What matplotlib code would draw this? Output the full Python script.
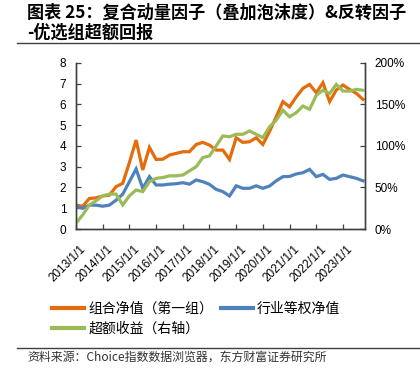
import numpy as np
import matplotlib
matplotlib.use('Agg')
import matplotlib.pyplot as plt
from matplotlib.lines import Line2D
from matplotlib.ticker import PercentFormatter
from matplotlib.transforms import ScaledTranslation

plt.rcParams['font.family'] = ['Liberation Sans', 'Noto Sans CJK SC']

# quarterly values, 2013Q1 - 2023Q4
portfolio_nav = [1.15, 1.10, 1.47, 1.50, 1.59, 1.63, 2.04, 2.20, 3.20, 4.28, 2.84, 3.93,
                 3.35, 3.36, 3.56, 3.64, 3.72, 3.72, 4.07, 4.17, 4.04, 3.80, 3.80, 3.35,
                 4.39, 4.17, 4.20, 4.39, 4.07, 4.70, 5.40, 6.13, 5.88, 6.36, 6.77, 6.96,
                 6.56, 7.04, 6.13, 6.69, 6.93, 6.72, 6.53, 6.24]
industry_nav = [1.07, 1.00, 1.15, 1.15, 1.10, 1.15, 1.39, 1.68, 2.28, 2.89, 1.96, 2.52,
                2.12, 2.12, 2.16, 2.18, 2.23, 2.16, 2.36, 2.28, 2.15, 1.91, 1.80, 1.59,
                2.08, 1.96, 1.96, 2.08, 1.96, 2.07, 2.32, 2.52, 2.53, 2.65, 2.71, 2.87,
                2.52, 2.63, 2.39, 2.44, 2.60, 2.52, 2.44, 2.32]
excess_pct = [7, 17, 29, 34, 40, 42, 42, 29, 40, 47, 45, 57,
              61, 62, 64, 64, 65, 70, 75, 86, 88, 100, 112, 111,
              114, 114, 118, 114, 110, 123, 131, 143, 135, 140, 148, 144,
              161, 167, 163, 174, 166, 166, 168, 167]
year_labels = ['2013/1/1', '2014/1/1', '2015/1/1', '2016/1/1', '2017/1/1', '2018/1/1',
               '2019/1/1', '2020/1/1', '2021/1/1', '2022/1/1', '2023/1/1']

orange = '#E46C0A'
blue = '#4F81BD'
green = '#9BBB59'
axis_col = '#404040'

x = np.arange(len(portfolio_nav))

fig = plt.figure(figsize=(4.2, 3.83), dpi=100)
ax = fig.add_axes([0.181, 0.402, 0.688, 0.434])
ax2 = ax.twinx()

ax.plot(x, portfolio_nav, color=orange, lw=2.3, solid_joinstyle='miter')
ax.plot(x, industry_nav, color=blue, lw=2.3, solid_joinstyle='miter')
ax2.plot(x, np.array(excess_pct) / 100, color=green, lw=2.3, solid_joinstyle='miter')

ax.set_xlim(0, 43.3)
ax.set_ylim(0, 8)
ax2.set_ylim(0, 2)
ax.set_yticks(range(0, 9))
ax2.set_yticks([0, 0.5, 1.0, 1.5, 2.0])
ax2.yaxis.set_major_formatter(PercentFormatter(1.0, decimals=0))

ax.set_xticks(np.arange(0, 44, 4))
ax.set_xticklabels(year_labels, rotation=45, ha='right', rotation_mode='anchor')

for a in (ax, ax2):
    a.spines['top'].set_visible(False)
    for s in ('left', 'right', 'bottom'):
        a.spines[s].set_color(axis_col)
        a.spines[s].set_linewidth(1.0)
    a.tick_params(direction='in', length=3.5, width=0.9, color=axis_col,
                  labelsize=8.5, labelcolor='black', pad=7)
ax.tick_params(axis='x', pad=10)
shift = ScaledTranslation(4 / 100, 0, fig.dpi_scale_trans)
for lab in ax.get_xticklabels():
    lab.set_transform(lab.get_transform() + shift)

handles = [Line2D([], [], color=orange, lw=3),
           Line2D([], [], color=green, lw=3),
           Line2D([], [], color=blue, lw=3)]
labels = ['组合净值（第一组）', '超额收益（右轴）', '行业等权净值']
fig.legend(handles, labels, ncol=2, loc='upper left', bbox_to_anchor=(0.095, 0.245),
           frameon=False, fontsize=10, handlelength=2.3, handletextpad=0.3,
           columnspacing=0.55, labelspacing=0.45)

fig.text(0.065, 1 - 13 / 383, '图表 25：复合动量因子（叠加泡沫度）&反转因子',
         fontsize=12.3, fontweight='bold', va='center', ha='left',
         family=['Noto Sans CJK SC'])
fig.text(0.065, 1 - 33 / 383, '-优选组超额回报',
         fontsize=12.3, fontweight='bold', va='center', ha='left',
         family=['Noto Sans CJK SC'])
fig.add_artist(Line2D([0.04, 1.0], [1 - 43 / 383] * 2, color=axis_col, lw=1.0))
fig.add_artist(Line2D([0.04, 1.0], [1 - 348 / 383] * 2, color=axis_col, lw=1.0))
fig.text(0.065, 1 - 357 / 383, '资料来源：Choice指数数据浏览器，东方财富证券研究所',
         fontsize=8.6, va='center', ha='left', color='#333333',
         family=['Noto Sans CJK SC'])

fig.savefig('out.png', dpi=100)
